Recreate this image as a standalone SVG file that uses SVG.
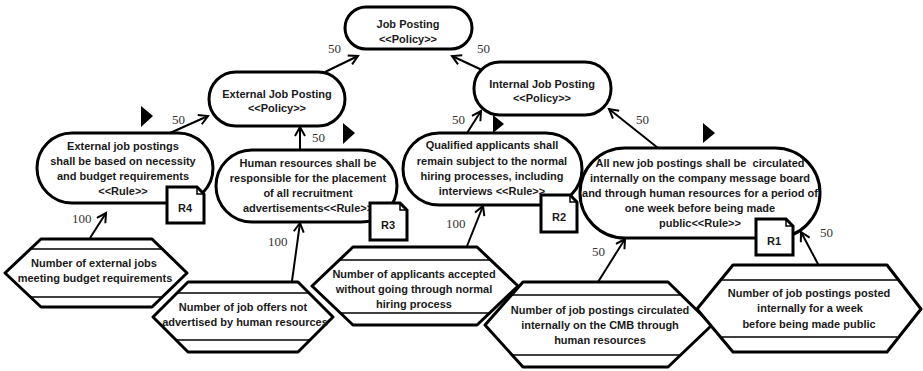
<svg xmlns="http://www.w3.org/2000/svg" width="923" height="371" viewBox="0 0 923 371">
  <defs>
    <style>
      .shape { fill: #fff; stroke: #000; stroke-width: 3; stroke-linejoin: round; }
      .doc { fill: #fff; stroke: #000; stroke-width: 3; stroke-linejoin: miter; }
      .inner { stroke: #000; stroke-width: 1.5; fill: none; }
      .t { font-family: "Liberation Sans", Arial, sans-serif; font-weight: bold; font-size: 11px; fill: #1a1a1a; text-anchor: middle; }
      .num { font-family: "Liberation Serif", "Times New Roman", serif; font-size: 13px; fill: #333; }
      .conn { stroke: #000; stroke-width: 2; fill: none; marker-end: url(#open); }
      .flag { fill: #000; }
    </style>
    <marker id="open" markerUnits="userSpaceOnUse" markerWidth="14" markerHeight="14" refX="10" refY="6" orient="auto">
      <path d="M1,1 L10,6 L1,11" fill="none" stroke="#000" stroke-width="2"/>
    </marker>
  </defs>

  <rect width="923" height="371" fill="#fff"/>

  <!-- policies -->
  <g id="policy-job-posting">
    <rect class="shape" x="345" y="7" width="127" height="42" rx="21"/>
    <text class="t" x="408" y="28">Job Posting</text>
    <text class="t" x="408" y="43">&lt;&lt;Policy&gt;&gt;</text>
  </g>
  <g id="policy-external">
    <rect class="shape" x="209" y="72" width="136" height="54" rx="27"/>
    <text class="t" x="277" y="98">External Job Posting</text>
    <text class="t" x="277" y="112">&lt;&lt;Policy&gt;&gt;</text>
  </g>
  <g id="policy-internal">
    <rect class="shape" x="474" y="62" width="137" height="53" rx="26"/>
    <text class="t" x="542" y="88">Internal Job Posting</text>
    <text class="t" x="542" y="102">&lt;&lt;Policy&gt;&gt;</text>
  </g>

  <!-- rules -->
  <g id="rule-r4">
    <rect class="shape" x="37" y="133" width="176" height="70" rx="35"/>
    <text class="t" x="123" y="150">External job postings</text>
    <text class="t" x="123" y="165">shall be based on necessity</text>
    <text class="t" x="123" y="180">and budget requirements</text>
    <text class="t" x="123" y="195">&lt;&lt;Rule&gt;&gt;</text>
    <path class="doc" d="M167,187 H197 L204,194 V223 H167 Z"/>
    <path class="inner" d="M197,187 V194 H204" stroke-width="2"/>
    <text class="t" x="185" y="212">R4</text>
  </g>
  <g id="rule-r3">
    <rect class="shape" x="216" y="150" width="181" height="72" rx="36"/>
    <text class="t" x="308" y="167">Human resources shall be</text>
    <text class="t" x="308" y="182">responsible for the placement</text>
    <text class="t" x="308" y="197">of all recruitment</text>
    <text class="t" x="308" y="212">advertisements&lt;&lt;Rule&gt;&gt;</text>
    <path class="doc" d="M370,203 H400 L407,210 V240 H370 Z"/>
    <path class="inner" d="M400,203 V210 H407" stroke-width="2"/>
    <text class="t" x="388" y="229">R3</text>
  </g>
  <g id="rule-r2">
    <rect class="shape" x="403" y="133" width="179" height="72" rx="36"/>
    <text class="t" x="492" y="149">Qualified applicants shall</text>
    <text class="t" x="492" y="165">remain subject to the normal</text>
    <text class="t" x="492" y="180">hiring processes, including</text>
    <text class="t" x="492" y="195">interviews &lt;&lt;Rule&gt;&gt;</text>
    <path class="doc" d="M541,195 H570 L577,202 V232 H541 Z"/>
    <path class="inner" d="M570,195 V202 H577" stroke-width="2"/>
    <text class="t" x="559" y="221">R2</text>
  </g>
  <g id="rule-r1">
    <rect class="shape" x="580" y="148" width="240" height="90" rx="45"/>
    <text class="t" x="700" y="167" xml:space="preserve">All new job postings shall be  circulated</text>
    <text class="t" x="700" y="182">internally on the company message board</text>
    <text class="t" x="700" y="197">and through human resources for a period of</text>
    <text class="t" x="700" y="212">one week before being made</text>
    <text class="t" x="700" y="227">public&lt;&lt;Rule&gt;&gt;</text>
    <path class="doc" d="M756,219 H786 L793,226 V255 H756 Z"/>
    <path class="inner" d="M786,219 V226 H793" stroke-width="2"/>
    <text class="t" x="774" y="245">R1</text>
  </g>

  <!-- measures -->
  <g id="measure-external-jobs">
    <polygon class="shape" points="5,273 41,239 152,239 187,273 152,307 41,307"/>
    <line class="inner" x1="30.4" y1="249" x2="162.3" y2="249"/>
    <line class="inner" x1="30.4" y1="297" x2="162.3" y2="297"/>
    <text class="t" x="94" y="267">Number of external jobs</text>
    <text class="t" x="95" y="282">meeting budget requirements</text>
  </g>
  <g id="measure-job-offers">
    <polygon class="shape" points="153,317 188,282 298,282 333,317 298,352 188,352"/>
    <line class="inner" x1="177" y1="293" x2="309" y2="293"/>
    <line class="inner" x1="176" y1="340" x2="310" y2="340"/>
    <text class="t" x="243" y="311">Number of job offers not</text>
    <text class="t" x="245" y="326">advertised by human resources</text>
  </g>
  <g id="measure-applicants">
    <polygon class="shape" points="312,286 353,247 477,247 518,286 477,325 353,325"/>
    <line class="inner" x1="339.3" y1="260" x2="490.7" y2="260"/>
    <line class="inner" x1="340.4" y1="313" x2="489.6" y2="313"/>
    <text class="t" x="414" y="278">Number of applicants accepted</text>
    <text class="t" x="414" y="293">without going through normal</text>
    <text class="t" x="414" y="308">hiring process</text>
  </g>
  <g id="measure-cmb">
    <polygon class="shape" points="485,325 523,282 668,282 712,325 668,367 523,367"/>
    <line class="inner" x1="511.4" y1="295" x2="681.5" y2="295"/>
    <line class="inner" x1="512.3" y1="355" x2="680.4" y2="355"/>
    <text class="t" x="600" y="314">Number of job postings circulated</text>
    <text class="t" x="600" y="329">internally on the CMB through</text>
    <text class="t" x="600" y="344">human resources</text>
  </g>
  <g id="measure-posted-week">
    <polygon class="shape" points="697,309 733,265 887,265 921,309 887,352 733,352"/>
    <line class="inner" x1="722" y1="280" x2="897" y2="280"/>
    <line class="inner" x1="722" y1="337" x2="897" y2="337"/>
    <text class="t" x="809" y="297">Number of job postings posted</text>
    <text class="t" x="810" y="312">internally for a week</text>
    <text class="t" x="809" y="328">before being made public</text>
  </g>

  <!-- flags -->
  <g id="flags">
    <polygon class="flag" points="141,106 153,116 141,127"/>
    <polygon class="flag" points="343,123 355,133 343,144"/>
    <polygon class="flag" points="493,115 504,124 493,133"/>
    <polygon class="flag" points="703,123 715,133 703,143"/>
  </g>

  <!-- connectors -->
  <g id="connectors">
    <line class="conn" x1="325" y1="72" x2="358" y2="56"/>
    <line class="conn" x1="482" y1="70" x2="452" y2="56"/>
    <line class="conn" x1="170" y1="133" x2="208" y2="116"/>
    <line class="conn" x1="300" y1="150" x2="300" y2="127"/>
    <line class="conn" x1="467" y1="133" x2="481" y2="111"/>
    <line class="conn" x1="658" y1="148" x2="609" y2="109"/>
    <line class="conn" x1="90" y1="238" x2="106" y2="213"/>
    <line class="conn" x1="292" y1="281" x2="300" y2="223"/>
    <line class="conn" x1="467" y1="246" x2="483" y2="206"/>
    <line class="conn" x1="598" y1="282" x2="625" y2="239"/>
    <line class="conn" x1="818" y1="264" x2="801" y2="232"/>

    <text class="num" x="328" y="53">50</text>
    <text class="num" x="477" y="53">50</text>
    <text class="num" x="172" y="124">50</text>
    <text class="num" x="312" y="142">50</text>
    <text class="num" x="452" y="124">50</text>
    <text class="num" x="636" y="124">50</text>
    <text class="num" x="72" y="223">100</text>
    <text class="num" x="268" y="246">100</text>
    <text class="num" x="446" y="228">100</text>
    <text class="num" x="592" y="256">50</text>
    <text class="num" x="820" y="237">50</text>
  </g>
</svg>
